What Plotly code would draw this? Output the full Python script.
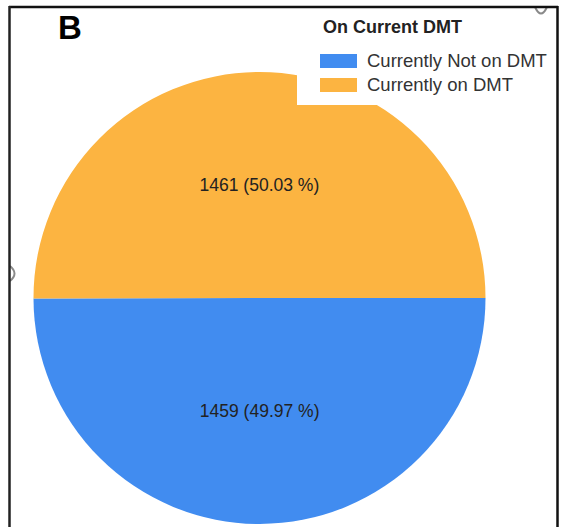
import plotly.graph_objects as go

# ---- data ----
labels = ["Currently Not on DMT", "Currently on DMT"]
values = [1459, 1461]
colors = ["#418CF0", "#FCB441"]
legend_title = "On Current DMT"
panel_label = "B"

total = sum(values)
texts = [f"{v} ({v / total * 100:.2f} %)" for v in values]

W, H = 562, 527


def px(x):
    return x / W


def py(y):
    return 1 - y / H


FONT = "Liberation Sans, Arial, sans-serif"

fig = go.Figure()
fig.add_trace(go.Pie(
    labels=labels,
    values=values,
    text=texts,
    textinfo="text",
    textposition="inside",
    insidetextorientation="horizontal",
    textfont=dict(family=FONT, size=17.5, color="#222222"),
    marker=dict(colors=colors, line=dict(width=0)),
    sort=False,
    direction="clockwise",
    rotation=90,
    hole=0,
    showlegend=False,
    hoverinfo="skip",
    domain=dict(x=[px(33), px(486)], y=[py(524), py(72)]),
))

shapes = []
annotations = []

# legend background (white box overlapping pie)
shapes.append(dict(type="rect", xref="paper", yref="paper", layer="above",
                   x0=px(297), x1=px(556), y0=py(105), y1=py(6),
                   fillcolor="white", line=dict(width=0)))
annotations.append(dict(xref="paper", yref="paper", x=px(321), y=py(27),
                        xanchor="left", yanchor="middle", showarrow=False,
                        text=f"<b>{legend_title}</b>",
                        font=dict(family=FONT, size=18, color="#222222")))
for i, (lab, col) in enumerate(zip(labels, colors)):
    yc = 61 + i * 24
    shapes.append(dict(type="rect", xref="paper", yref="paper", layer="above",
                       x0=px(320), x1=px(357), y0=py(yc + 7), y1=py(yc - 7),
                       fillcolor=col, line=dict(width=0)))
    annotations.append(dict(xref="paper", yref="paper", x=px(365), y=py(yc),
                            xanchor="left", yanchor="middle", showarrow=False,
                            text=lab,
                            font=dict(family=FONT, size=18.5, color="#333333")))

# panel label
annotations.append(dict(xref="paper", yref="paper", x=px(56), y=py(28),
                        xanchor="left", yanchor="middle", showarrow=False,
                        text=f"<b>{panel_label}</b>",
                        font=dict(family=FONT, size=33, color="black")))

# small grey arcs (artifacts)
shapes.append(dict(type="path", xref="paper", yref="paper", layer="above",
                   path=f"M {px(535)},{py(7)} Q {px(541)},{py(20)} {px(547)},{py(7)}",
                   line=dict(color="#8a8a8a", width=2)))
shapes.append(dict(type="path", xref="paper", yref="paper", layer="above",
                   path=f"M {px(10)},{py(266)} Q {px(19)},{py(273.5)} {px(10)},{py(281)}",
                   line=dict(color="#8a8a8a", width=2)))

# frame
shapes.append(dict(type="line", xref="paper", yref="paper", layer="above",
                   x0=px(9), x1=px(558), y0=py(7), y1=py(7),
                   line=dict(color="#111111", width=2.5)))
shapes.append(dict(type="line", xref="paper", yref="paper", layer="above",
                   x0=px(9.5), x1=px(9.5), y0=py(6), y1=py(530),
                   line=dict(color="#222222", width=2.5)))
shapes.append(dict(type="line", xref="paper", yref="paper", layer="above",
                   x0=px(557.5), x1=px(557.5), y0=py(6), y1=py(530),
                   line=dict(color="#111111", width=2.5)))

fig.update_layout(
    width=W, height=H, autosize=False,
    margin=dict(l=0, r=0, t=0, b=0),
    paper_bgcolor="white", plot_bgcolor="white",
    shapes=shapes, annotations=annotations,
    font=dict(family=FONT),
)

fig.write_html(
    "out.html",
    config={"displayModeBar": False, "staticPlot": True},
    post_script="document.body.style.margin='0px';document.body.style.overflow='hidden';",
)
